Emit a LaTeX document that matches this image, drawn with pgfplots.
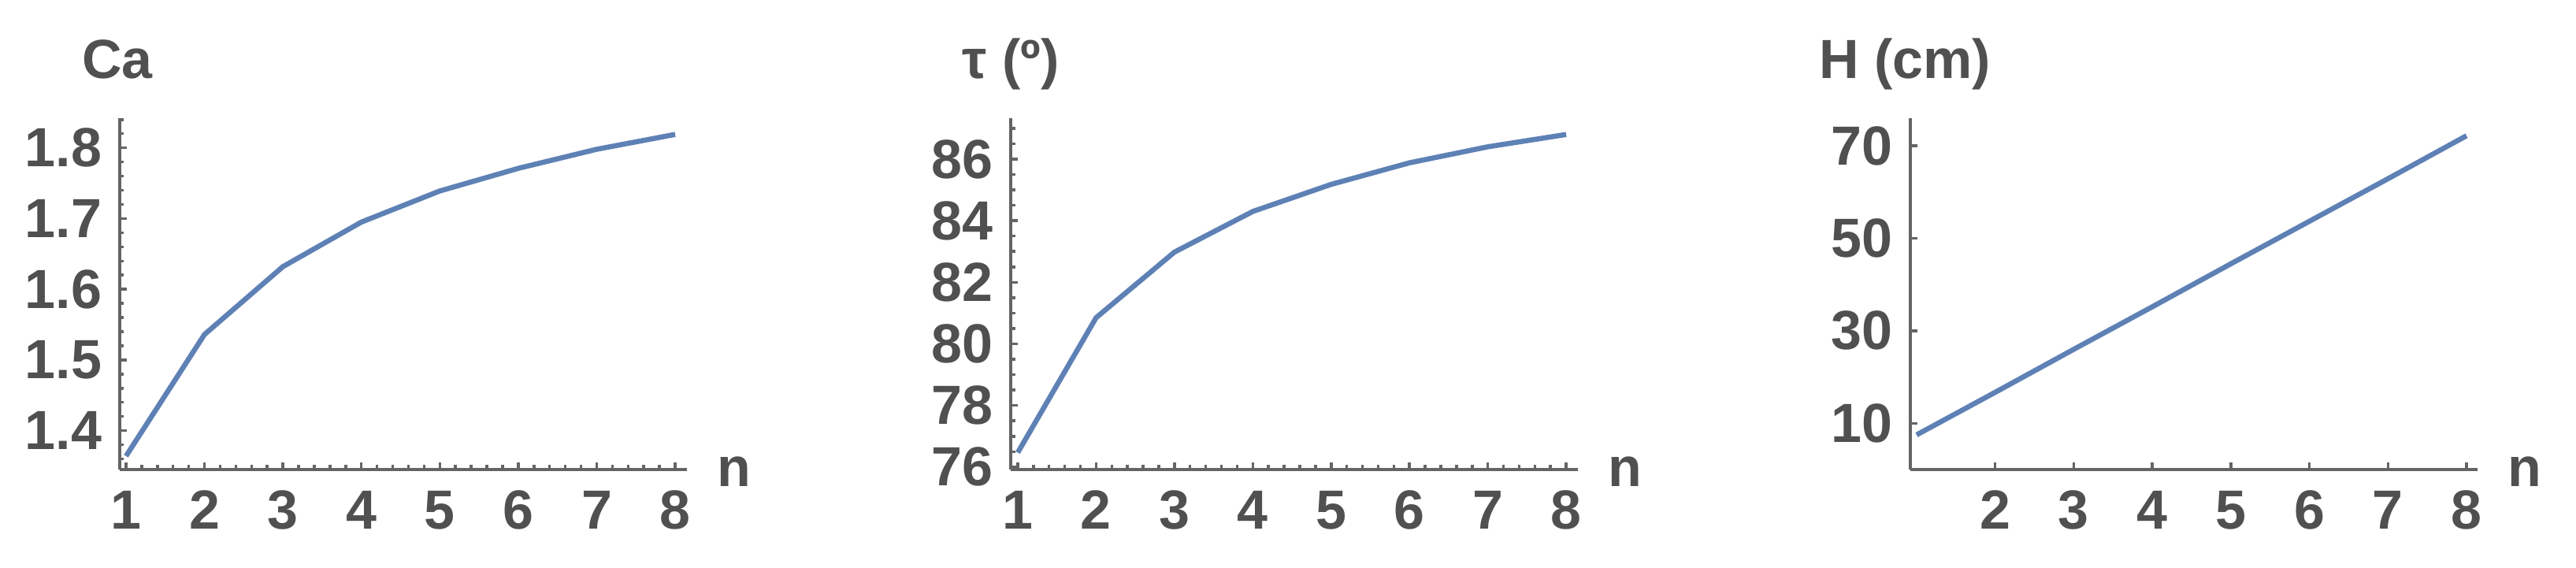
\documentclass[border=0pt]{standalone}
\usepackage{pgfplots}
\pgfplotsset{compat=1.18}
\usepackage{fontspec}
\setmainfont{Liberation Sans}
\definecolor{txt}{RGB}{80,80,80}
\definecolor{axc}{RGB}{100,100,100}
\definecolor{mblue}{RGB}{94,129,181}
\newcommand{\ff}{\fontsize{14}{16}\selectfont\bfseries}
\tikzset{lbl/.style={txt, font=\ff, inner sep=0pt}}
\pgfplotsset{
  mma/.style={
    scale only axis, width=144pt, height=89.2pt,
    axis x line=bottom, axis y line=left,
    axis line style={-, axc, line width=0.9pt},
    tick align=inside,
    major tick length=1.8pt, minor tick length=1.1pt,
    every tick/.style={axc, line width=0.7pt},
    tick label style={txt, font=\ff},
    xticklabel style={anchor=north, inner sep=0pt, yshift=-5.2pt},
    yticklabel style={anchor=east, inner sep=0pt, xshift=-4.4pt},
    clip=false,
  },
}
\begin{document}
\begin{tikzpicture}
\path[use as bounding box] (0,0) rectangle (654pt,144.2pt);
% Panel 1: Ca
\begin{axis}[mma, at={(30.4pt,25pt)}, anchor=south west,
  xmin=0.92, xmax=8.15, ymin=1.345, ymax=1.842,
  xtick={1,2,3,4,5,6,7,8}, xticklabels={1,2,3,4,5,6,7,8},
  minor xtick={1.2,1.4,1.6,1.8,2.2,2.4,2.6,2.8,3.2,3.4,3.6,3.8,4.2,4.4,4.6,4.8,5.2,5.4,5.6,5.8,6.2,6.4,6.6,6.8,7.2,7.4,7.6,7.8},
  ytick={1.4,1.5,1.6,1.7,1.8}, yticklabels={1.4,1.5,1.6,1.7,1.8},
  minor ytick={1.36,1.38,1.42,1.44,1.46,1.48,1.52,1.54,1.56,1.58,1.62,1.64,1.66,1.68,1.72,1.74,1.76,1.78,1.82,1.84},
]
\addplot[mblue, line width=1.3pt, line join=round] coordinates {
 (1,1.364) (2,1.536) (3,1.632) (4,1.695) (5,1.739) (6,1.771) (7,1.798) (8,1.819)};
\node[lbl, anchor=base] at (rel axis cs:0,1) [xshift=-0.6pt, yshift=10pt] {Ca};
\node[lbl, anchor=base west] at (rel axis cs:1,0) [xshift=7.4pt, yshift=-4.4pt] {n};
\end{axis}
% Panel 2: tau
\begin{axis}[mma, at={(256.6pt,25pt)}, anchor=south west,
  xmin=0.91, xmax=8.15, ymin=75.92, ymax=87.33,
  xtick={1,2,3,4,5,6,7,8}, xticklabels={1,2,3,4,5,6,7,8},
  minor xtick={1.2,1.4,1.6,1.8,2.2,2.4,2.6,2.8,3.2,3.4,3.6,3.8,4.2,4.4,4.6,4.8,5.2,5.4,5.6,5.8,6.2,6.4,6.6,6.8,7.2,7.4,7.6,7.8},
  ytick={76,78,80,82,84,86}, yticklabels={76,78,80,82,84,86},
  minor ytick={76.5,77,77.5,78.5,79,79.5,80.5,81,81.5,82.5,83,83.5,84.5,85,85.5,86.5,87},
]
\addplot[mblue, line width=1.3pt, line join=round] coordinates {
 (1,76.47) (2,80.85) (3,82.98) (4,84.30) (5,85.18) (6,85.88) (7,86.40) (8,86.80)};
\node[lbl, anchor=base] at (rel axis cs:0,1) [yshift=10pt] {τ (º)};
\node[lbl, anchor=base west] at (rel axis cs:1,0) [xshift=7.4pt, yshift=-4.4pt] {n};
\end{axis}
% Panel 3: H
\begin{axis}[mma, at={(485pt,25pt)}, anchor=south west,
  xmin=0.92, xmax=8.14, ymin=0, ymax=76,
  xtick={2,3,4,5,6,7,8}, xticklabels={2,3,4,5,6,7,8},
  ytick={10,30,50,70}, yticklabels={10,30,50,70},
]
\addplot[mblue, line width=1.3pt, line join=round] coordinates {
 (1,7.5) (2,16.7) (3,26.0) (4,35.2) (5,44.5) (6,53.7) (7,62.9) (8,72.2)};
\node[lbl, anchor=base] at (rel axis cs:0,1) [xshift=-1.4pt, yshift=10pt] {H (cm)};
\node[lbl, anchor=base west] at (rel axis cs:1,0) [xshift=7.4pt, yshift=-4.4pt] {n};
\end{axis}
\end{tikzpicture}
\end{document}
